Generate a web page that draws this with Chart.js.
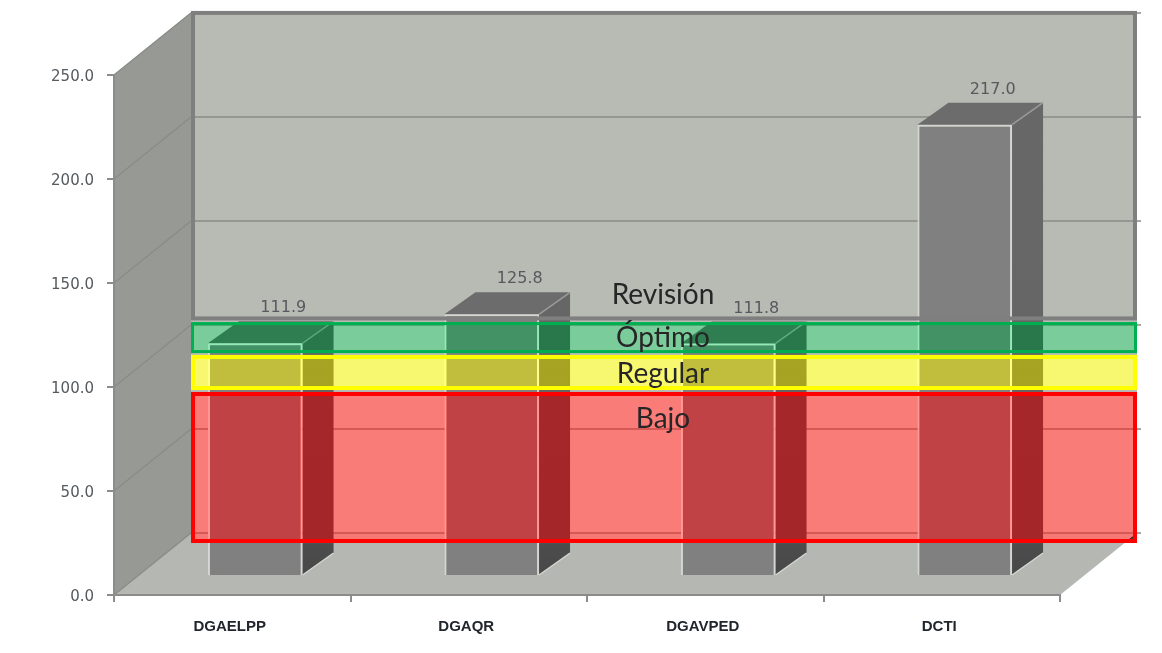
<!DOCTYPE html>
<html><head><meta charset="utf-8">
<style>html,body{margin:0;padding:0;background:#fff}canvas{display:block;filter:blur(.45px)}</style>
<script src="https://cdn.jsdelivr.net/npm/chart.js@4"></script></head>
<body><canvas id="c" width="1162" height="653"></canvas>
<script>
const categories = ['DGAELPP','DGAQR','DGAVPED','DCTI'];
const values = [111.9,125.8,111.8,217.0];
const bandNames = ['Revisión','Óptimo','Regular','Bajo'];
const bandTop = [251,101.4,85.6,67.8];
const bandBottom = [102.2,86.5,68.75,-4.8];
const bandLabelAt = [114.5,93.8,76.5,54.9];

const BACK = {dx:77, dy:-62};
const BAR = {dx:23, dy:-19, sx:31, sy:-22};
const bandStyle = [
  {stroke:'#7f7f7f', w:4},
  {stroke:'#00b050', w:3, add:'rgb(0,18,0)',  sub:'rgb(62,0,26)'},
  {stroke:'#ffff00', w:4, add:'rgb(64,62,0)', sub:'rgb(0,0,68)'},
  {stroke:'#ff0000', w:4, add:'rgb(65,0,0)',  sub:'rgb(0,62,60)'}
];
function poly(ctx, pts, fill){
  ctx.beginPath(); pts.forEach((p,i)=> i?ctx.lineTo(p[0],p[1]):ctx.moveTo(p[0],p[1]));
  ctx.closePath(); ctx.fillStyle = fill; ctx.fill();
}
const scene = {
  id:'scene',
  beforeDraw(chart){
    const {ctx, chartArea:a, scales:{y}} = chart;
    const L=a.left,R=a.right,T=a.top,B=a.bottom,dx=BACK.dx,dy=BACK.dy;
    ctx.save();
    poly(ctx,[[L+dx,T+dy],[R+dx,T+dy],[R+dx,B+dy],[L+dx,B+dy]],'#b8bab4');
    poly(ctx,[[L,T],[L+dx,T+dy],[L+dx,B+dy],[L,B]],'#979a94');
    poly(ctx,[[L,B],[L+dx,B+dy],[R+dx,B+dy],[R,B]],'#b5b7b2');
    ctx.strokeStyle='#8a8c87'; ctx.lineWidth=1.5;
    y.ticks.forEach(t=>{
      const py=y.getPixelForValue(t.value);
      ctx.beginPath(); ctx.moveTo(L,py); ctx.lineTo(L+dx,py+dy);
      ctx.lineTo(R+dx+4,py+dy);
      ctx.stroke();
    });
    ctx.restore();
  },
  beforeDatasetDraw(chart,args){
    const ctx=chart.ctx, y=chart.scales.y;
    ctx.save(); ctx.translate(BAR.dx,BAR.dy);
    args.meta.data.forEach(b=>{
      const l=b.x-b.width/2,r=b.x+b.width/2,t=b.y,bs=b.base,sx=BAR.sx,sy=BAR.sy;
      const g=ctx.createLinearGradient(0,y.getPixelForValue(250),0,y.getPixelForValue(0));
      g.addColorStop(0,'#686868'); g.addColorStop(.93,'#646464');
      g.addColorStop(.94,'#4c4c4c'); g.addColorStop(1,'#484848');
      poly(ctx,[[r,t],[r+sx,t+sy],[r+sx,bs+sy],[r,bs]],g);
      poly(ctx,[[l,t],[l+sx,t+sy],[r+sx,t+sy],[r,t]],'#6c6c6c');
      ctx.strokeStyle='#d4d6d2'; ctx.lineWidth=1.5;
      ctx.beginPath(); ctx.moveTo(r,bs); ctx.lineTo(r+sx,bs+sy); ctx.stroke();
      ctx.strokeStyle='#9a9a9a'; ctx.lineWidth=1.5;
      ctx.beginPath(); ctx.moveTo(r,t); ctx.lineTo(r+sx,t+sy); ctx.stroke();
    });
  },
  afterDatasetDraw(chart){ chart.ctx.restore(); },
  afterDatasetsDraw(chart){
    const {ctx, chartArea:a, scales:{y}} = chart;
    const L=a.left+BACK.dx,R=a.right+BACK.dx;
    const py=v=>y.getPixelForValue(v)+BACK.dy;
    ctx.save();
    chart.getDatasetMeta(0).data.forEach((b,i)=>{
      ctx.font='16px "DejaVu Sans"'; ctx.fillStyle='#555a5e';
      ctx.textAlign='center'; ctx.textBaseline='middle';
      ctx.fillText(values[i].toFixed(1), b.x+BAR.dx+28, b.y+BAR.dy-35);
    });
    bandNames.forEach((n,i)=>{
      const s=bandStyle[i],t=py(bandTop[i]),h=py(bandBottom[i])-t,w=R-L;
      if(s.add){
        ctx.globalCompositeOperation='lighter'; ctx.fillStyle=s.add; ctx.fillRect(L,t,w,h);
        ctx.globalCompositeOperation='difference'; ctx.fillStyle=s.sub; ctx.fillRect(L,t,w,h);
        ctx.globalCompositeOperation='source-over';
      }
      ctx.strokeStyle=s.stroke; ctx.lineWidth=s.w;
      ctx.strokeRect(L+s.w/2,t+s.w/2,w-s.w,h-s.w);
    });
    ctx.font='28px Lato'; ctx.fillStyle='#262626';
    ctx.textAlign='center'; ctx.textBaseline='middle';
    bandNames.forEach((n,i)=>ctx.fillText(n,(L+R)/2-1,py(bandLabelAt[i])));
    ctx.restore();
  }
};
new Chart(document.getElementById('c'),{
  type:'bar',
  data:{labels:categories,datasets:[{data:values,backgroundColor:'#808080',borderColor:'#d4d6d2',borderWidth:2,clip:false,
    categoryPercentage:1,barPercentage:0.4}]},
  options:{
    responsive:false,animation:false,
    layout:{padding:{top:75,right:102,left:0,bottom:0}},
    plugins:{legend:{display:false},tooltip:{enabled:false}},
    events:[],
    scales:{
      x:{afterFit:s=>{s.height=58},
        grid:{drawOnChartArea:false,drawTicks:true,tickLength:7,color:'#8c8c8c',lineWidth:2},
        border:{color:'#8c8c8c',width:2},
        ticks:{color:'#22262c',font:{family:'"Liberation Sans"',size:15,weight:'bold'},padding:16,labelOffset:-2.5,maxRotation:0}},
      y:{min:0,max:250,afterFit:s=>{s.width=114},
        grid:{drawOnChartArea:false,drawTicks:true,tickLength:7,color:'#8c8c8c',lineWidth:2},
        border:{color:'#8c8c8c',width:2},
        ticks:{stepSize:50,color:'#555a5e',font:{family:'"DejaVu Sans"',size:15},padding:13,labelOffset:2,callback:v=>Number(v).toFixed(1)}}
    }
  },
  plugins:[scene]
});
</script></body></html>
